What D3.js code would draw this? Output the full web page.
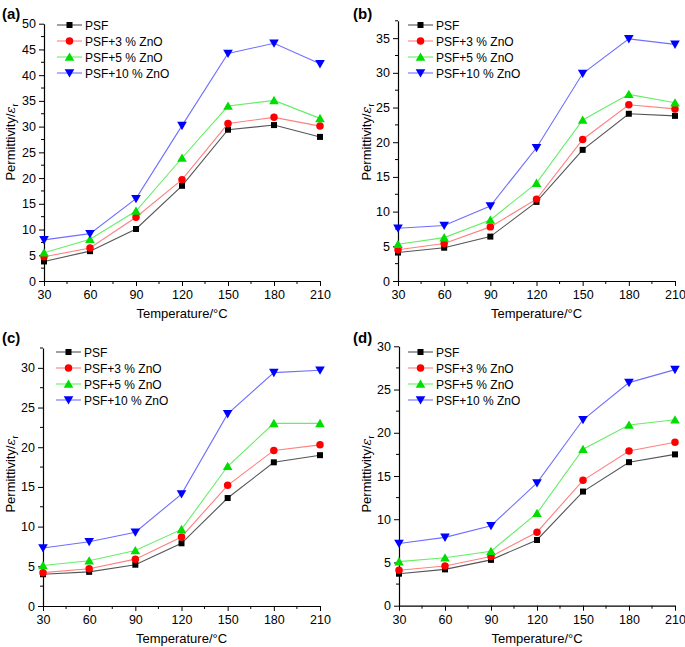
<!DOCTYPE html>
<html><head><meta charset="utf-8">
<script src="https://cdn.jsdelivr.net/npm/d3@7"></script>
<style>body{margin:0;background:#fff}svg{display:block;font-family:"Liberation Sans",Arial,sans-serif}</style>
</head><body><svg id="c" width="685" height="647"></svg>
<script>
const temperatures = [30, 60, 90, 120, 150, 180, 210];
const xTicks = [30, 60, 90, 120, 150, 180, 210];
const seriesNames = ["PSF", "PSF+3 % ZnO", "PSF+5 % ZnO", "PSF+10 % ZnO"];
const panelLabels = ["(a)", "(b)", "(c)", "(d)"];

const a_PSF = [3.8, 5.8, 10.1, 18.5, 29.4, 30.3, 28.0];
const a_ZnO3 = [4.7, 6.4, 12.4, 19.7, 30.6, 31.8, 30.1];
const a_ZnO5 = [5.5, 8.1, 13.6, 23.9, 34.0, 35.1, 31.6];
const a_ZnO10 = [8.0, 9.2, 16.0, 30.2, 44.2, 46.2, 42.2];

const b_PSF = [4.1, 4.8, 6.4, 11.4, 18.9, 24.1, 23.8];
const b_ZnO3 = [4.5, 5.4, 7.8, 11.8, 20.4, 25.4, 24.8];
const b_ZnO5 = [5.3, 6.25, 8.8, 14.1, 23.2, 26.9, 25.7];
const b_ZnO10 = [7.6, 8.0, 10.8, 19.2, 29.9, 34.9, 34.1];

const c_PSF = [4.0, 4.3, 5.2, 7.9, 13.6, 18.1, 19.0];
const c_ZnO3 = [4.2, 4.7, 5.9, 8.7, 15.2, 19.6, 20.3];
const c_ZnO5 = [5.1, 5.7, 7.0, 9.65, 17.6, 23.0, 23.0];
const c_ZnO10 = [7.3, 8.1, 9.3, 14.1, 24.2, 29.4, 29.7];

const d_PSF = [3.7, 4.2, 5.3, 7.6, 13.2, 16.6, 17.5];
const d_ZnO3 = [4.1, 4.6, 5.7, 8.5, 14.5, 17.9, 18.9];
const d_ZnO5 = [5.1, 5.55, 6.3, 10.7, 18.1, 20.9, 21.5];
const d_ZnO10 = [7.2, 7.9, 9.25, 14.2, 21.5, 25.8, 27.3];

const yMaxes = [50, 37.5, 32.5, 30];
const yTickValues = [
  [0,5,10,15,20,25,30,35,40,45,50],
  [0,5,10,15,20,25,30,35],
  [0,5,10,15,20,25,30],
  [0,5,10,15,20,25,30]
];

const panelData = [
  [a_PSF, a_ZnO3, a_ZnO5, a_ZnO10],
  [b_PSF, b_ZnO3, b_ZnO5, b_ZnO10],
  [c_PSF, c_ZnO3, c_ZnO5, c_ZnO10],
  [d_PSF, d_ZnO3, d_ZnO5, d_ZnO10]
];

// layout (pixel geometry)
const layout = [
  {x0:44, x1:320, yb:281, yt:23.7, lab:[2,19], ylx:15, ylc:142, xly:318, leg:[57,25]},
  {x0:398, x1:675, yb:281, yt:20.8, lab:[353,19], ylx:371, ylc:142, xly:318, leg:[408,25]},
  {x0:43, x1:320, yb:606, yt:348, lab:[2,343], ylx:15, ylc:474, xly:643, leg:[56,352]},
  {x0:399, x1:675, yb:605.7, yt:346.3, lab:[353,343], ylx:371, ylc:474, xly:643, leg:[408,352]}
];
const lineColors = ["#555555", "#ff8080", "#66ee66", "#6f6fff"];
const markColors = ["#000000", "#ff0000", "#00dd00", "#0000ff"];
const symbols = [d3.symbolSquare, d3.symbolCircle, d3.symbolTriangle, d3.symbolTriangle];
const symSizes = [36, 44, 40, 40];
const rot = [0, 0, 0, 180];

const svg = d3.select("#c");

panelData.forEach((series, p) => {
  const L = layout[p];
  const x = d3.scaleLinear().domain([30, 210]).range([L.x0, L.x1]);
  const y = d3.scaleLinear().domain([0, yMaxes[p]]).range([L.yb, L.yt]);
  const g = svg.append("g");

  // y axis
  const ya = g.append("g").attr("transform", `translate(${L.x0},0)`)
    .call(d3.axisLeft(y).tickValues(yTickValues[p]).tickSize(5).tickPadding(3).tickSizeOuter(0));
  ya.select(".domain").attr("stroke", "#000").attr("stroke-width", 1.2);
  ya.selectAll(".tick line").attr("stroke", "#000");
  ya.selectAll("text").attr("font-size", 12.5).attr("font-family", "Liberation Sans, Arial, sans-serif").attr("fill", "#000");
  const yMinor = d3.range(2.5, yMaxes[p] + 0.01, 5);
  g.selectAll(".ymin").data(yMinor).join("line")
    .attr("x1", L.x0 - 3).attr("x2", L.x0).attr("y1", d => y(d)).attr("y2", d => y(d)).attr("stroke", "#000");

  // x axis
  const xa = g.append("g").attr("transform", `translate(0,${L.yb})`)
    .call(d3.axisBottom(x).tickValues(xTicks).tickSize(5).tickPadding(4).tickSizeOuter(0));
  xa.select(".domain").attr("stroke", "#000").attr("stroke-width", 1.2);
  xa.selectAll(".tick line").attr("stroke", "#000");
  xa.selectAll("text").attr("font-size", 12.5).attr("font-family", "Liberation Sans, Arial, sans-serif").attr("fill", "#000");
  const xMinor = d3.range(45, 210, 30);
  g.selectAll(".xmin").data(xMinor).join("line")
    .attr("x1", d => x(d)).attr("x2", d => x(d)).attr("y1", L.yb).attr("y2", L.yb + 3).attr("stroke", "#000");

  // axis titles
  g.append("text").attr("transform", `translate(${L.ylx},${L.ylc}) rotate(-90)`)
    .attr("text-anchor", "middle").attr("font-size", 13).attr("fill", "#000")
    .call(t => {
      t.append("tspan").text("Permittivity/");
      t.append("tspan").attr("font-style", "italic").attr("font-family", "DejaVu Serif, serif").text("ε");
      t.append("tspan").attr("font-size", 9).attr("dy", 3).text("r");
    });
  g.append("text").attr("x", (L.x0 + L.x1) / 2).attr("y", L.xly)
    .attr("text-anchor", "middle").attr("font-size", 13).attr("fill", "#000")
    .text("Temperature/°C");

  // panel label
  g.append("text").attr("x", L.lab[0]).attr("y", L.lab[1]).attr("font-size", 15).attr("font-weight", "bold")
    .attr("fill", "#000").text(panelLabels[p]);

  // series
  const line = d3.line().x((d, i) => x(temperatures[i])).y(d => y(d));
  series.forEach((vals, s) => {
    g.append("path").datum(vals).attr("d", line).attr("fill", "none")
      .attr("stroke", lineColors[s]).attr("stroke-width", 1.1);
    g.selectAll(null).data(vals).join("path")
      .attr("d", d3.symbol().type(symbols[s]).size(symSizes[s]))
      .attr("transform", (d, i) => `translate(${x(temperatures[i])},${y(d) + (s === 3 ? -1 : (s === 2 ? 1 : 0))}) rotate(${rot[s]})`)
      .attr("fill", markColors[s]);
  });

  // legend
  seriesNames.forEach((name, s) => {
    const ly = L.leg[1] + s * 16;
    const lx = L.leg[0];
    g.append("line").attr("x1", lx).attr("x2", lx + 25).attr("y1", ly).attr("y2", ly)
      .attr("stroke", lineColors[s]).attr("stroke-width", 1.1);
    g.append("path").attr("d", d3.symbol().type(symbols[s]).size(symSizes[s]))
      .attr("transform", `translate(${lx + 12.5},${ly + (s === 3 ? -1 : (s === 2 ? 1 : 0))}) rotate(${rot[s]})`)
      .attr("fill", markColors[s]);
    g.append("text").attr("x", lx + 28).attr("y", ly + 4.5).attr("font-size", 12).attr("fill", "#000").text(name);
  });
});
</script></body></html>
